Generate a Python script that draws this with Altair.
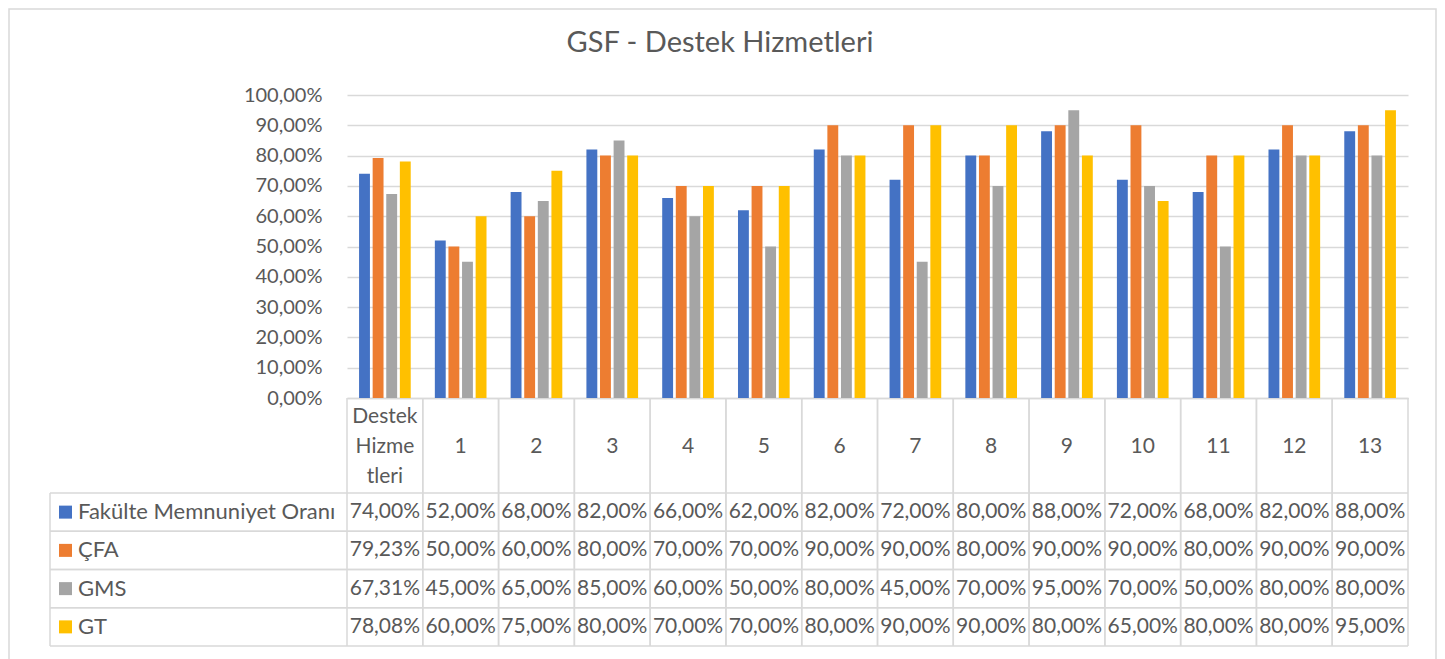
import altair as alt
import pandas as pd

# ---------------- data ----------------
categories = ["Destek Hizmetleri", "1", "2", "3", "4", "5", "6", "7", "8", "9", "10", "11", "12", "13"]
series = ["Fakülte Memnuniyet Oranı", "ÇFA", "GMS", "GT"]
fakulte = [74.00, 52.00, 68.00, 82.00, 66.00, 62.00, 82.00, 72.00, 80.00, 88.00, 72.00, 68.00, 82.00, 88.00]
cfa = [79.23, 50.00, 60.00, 80.00, 70.00, 70.00, 90.00, 90.00, 80.00, 90.00, 90.00, 80.00, 90.00, 90.00]
gms = [67.31, 45.00, 65.00, 85.00, 60.00, 50.00, 80.00, 45.00, 70.00, 95.00, 70.00, 50.00, 80.00, 80.00]
gt = [78.08, 60.00, 75.00, 80.00, 70.00, 70.00, 80.00, 90.00, 90.00, 80.00, 65.00, 80.00, 80.00, 95.00]
colors = ["#4472C4", "#ED7D31", "#A5A5A5", "#FFC000"]
y_ticks = [0, 10, 20, 30, 40, 50, 60, 70, 80, 90, 100]
title_text = "GSF - Destek Hizmetleri"

rows = []
for s, vals in zip(series, [fakulte, cfa, gms, gt]):
    for c, v in zip(categories, vals):
        rows.append({"category": c, "series": s, "value": v,
                     "label": f"{v:.2f}%".replace(".", ",")})
df = pd.DataFrame(rows)
df_cat = pd.DataFrame({"category": categories})
df_ser = pd.DataFrame({"series": series})
df_one = pd.DataFrame({"t": [title_text]})

# ---------------- layout (px, relative to plot origin) ----------------
W, H = 1061, 303
TABLE_TOP, TABLE_BOTTOM = 398, 551
TABLE_LEFT = -297
FONT = "Lato"
TXT = "#595959"
LINE = "#D9D9D9"

xscale = alt.Scale(domain=categories, paddingInner=0, paddingOuter=0)
xaxis = alt.Axis(
    title=None, ticks=False, grid=False, domainColor=LINE, domainWidth=1.5,
    labelAngle=0, labelPadding=18, labelBaseline="middle", labelFontSize=21,
    labelFont=FONT, labelColor=TXT, labelLineHeight=30,
    labelExpr="datum.value == 'Destek Hizmetleri' ? ['Destek', 'Hizme', 'tleri'] : ['', datum.label]",
)
row_scale = alt.Scale(domain=series, range=[TABLE_TOP, TABLE_BOTTOM], paddingInner=0, paddingOuter=0)
color_scale = alt.Scale(domain=series, range=colors)

bars = alt.Chart(df).mark_bar().encode(
    x=alt.X("category:N", scale=xscale, axis=xaxis, sort=categories),
    xOffset=alt.XOffset("series:N", sort=series,
                        scale=alt.Scale(domain=series, paddingInner=0.2, paddingOuter=0.887)),
    y=alt.Y("value:Q", scale=alt.Scale(domain=[0, 100], nice=False),
            axis=alt.Axis(title=None, values=y_ticks, domain=False, ticks=False,
                          gridColor=LINE, gridWidth=1.3, labelPadding=25,
                          labelFontSize=20, labelFont=FONT, labelColor=TXT,
                          labelExpr="replace(format(datum.value, '.2f'), '.', ',') + '%'")),
    color=alt.Color("series:N", scale=color_scale, legend=None),
)

# table vertical lines (category boundaries)
vlines_start = alt.Chart(df_cat).mark_rule(color=LINE, strokeWidth=1.5).encode(
    x=alt.X("category:N", scale=xscale, axis=xaxis, bandPosition=0, sort=categories),
    y=alt.value(H), y2=alt.value(TABLE_BOTTOM),
)
vlines_end = alt.Chart(df_cat).mark_rule(color=LINE, strokeWidth=1.5).encode(
    x=alt.X("category:N", scale=xscale, axis=xaxis, bandPosition=1, sort=categories),
    y=alt.value(H), y2=alt.value(TABLE_BOTTOM),
)
# table horizontal lines (row boundaries)
hlines_start = alt.Chart(df_ser).mark_rule(color=LINE, strokeWidth=1.5).encode(
    y=alt.Y("series:N", scale=row_scale, axis=None, bandPosition=0, sort=series),
    x=alt.value(TABLE_LEFT), x2=alt.value(W),
)
hlines_end = alt.Chart(df_ser).mark_rule(color=LINE, strokeWidth=1.5).encode(
    y=alt.Y("series:N", scale=row_scale, axis=None, bandPosition=1, sort=series),
    x=alt.value(TABLE_LEFT), x2=alt.value(W),
)
left_line = alt.Chart(df_one).mark_rule(color=LINE, strokeWidth=1.5).encode(
    x=alt.value(TABLE_LEFT), y=alt.value(TABLE_TOP), y2=alt.value(TABLE_BOTTOM),
)
# table cell values
cells = alt.Chart(df).mark_text(fontSize=21, font=FONT, color=TXT, baseline="middle").encode(
    x=alt.X("category:N", scale=xscale, axis=xaxis, sort=categories),
    y=alt.Y("series:N", scale=row_scale, axis=None, sort=series),
    text="label:N",
)
# legend keys + names in the table
keys = alt.Chart(df_ser).mark_point(shape="square", filled=True, size=169, opacity=1).encode(
    x=alt.value(-281.5),
    y=alt.Y("series:N", scale=row_scale, axis=None, sort=series),
    color=alt.Color("series:N", scale=color_scale, legend=None),
)
names = alt.Chart(df_ser).mark_text(fontSize=22, font=FONT, color=TXT, align="left", baseline="middle").encode(
    x=alt.value(-269),
    y=alt.Y("series:N", scale=row_scale, axis=None, sort=series),
    text="series:N",
)
# chart title
title = alt.Chart(df_one).mark_text(fontSize=29, font=FONT, color=TXT, align="center",
                                     baseline="alphabetic").encode(
    x=alt.value(373), y=alt.value(-43), text="t:N",
)
# outer chart-area border
border = alt.Chart(df_one).mark_rect(fill=None, stroke=LINE, strokeWidth=1.5).encode(
    x=alt.value(-338), x2=alt.value(1089), y=alt.value(-86), y2=alt.value(572),
)

chart = alt.layer(
    border, title, bars, vlines_start, vlines_end, hlines_start, hlines_end,
    left_line, cells, keys, names,
).resolve_scale(y="independent").properties(
    width=W, height=H, padding=0, background="white",
).configure_view(strokeWidth=0)

chart.save("out.html", embed_options={"renderer": "svg", "actions": False})
